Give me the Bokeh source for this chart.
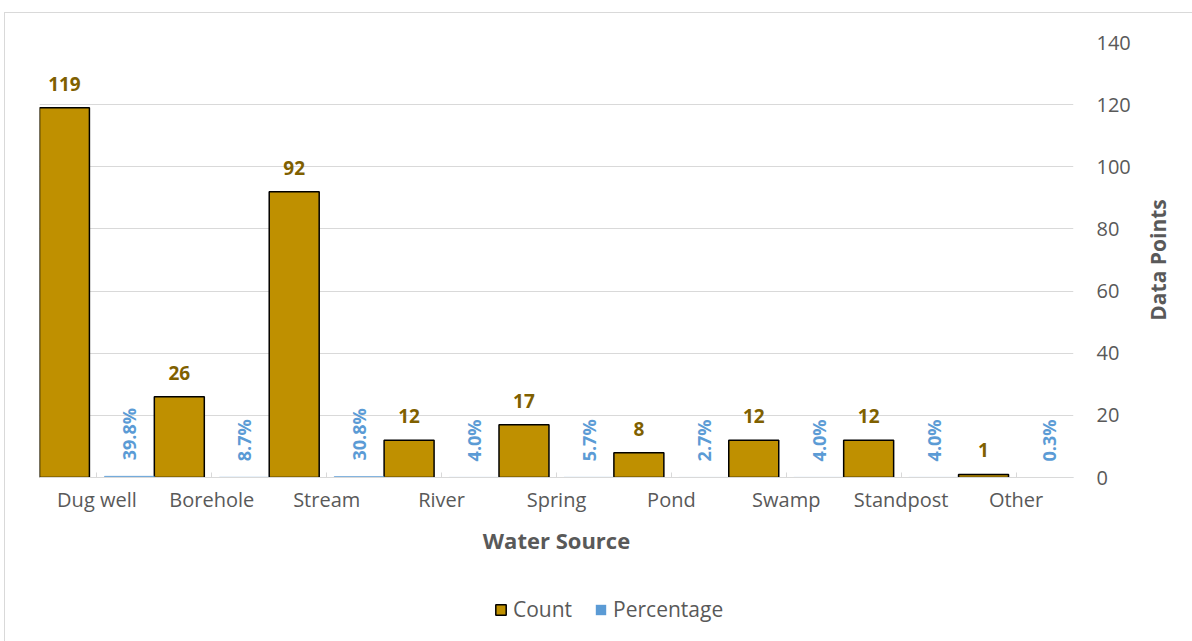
from math import pi

from bokeh.core.properties import value
from bokeh.embed import file_html
from bokeh.layouts import column, row
from bokeh.models import (ColumnDataSource, FixedTicker, Grid, Legend,
                          LegendItem, LinearAxis, Range1d)
from bokeh.plotting import figure
from bokeh.resources import INLINE

# ---- data -------------------------------------------------------------
sources = ["Dug well", "Borehole", "Stream", "River", "Spring",
           "Pond", "Swamp", "Standpost", "Other"]
counts = [119, 26, 92, 12, 17, 8, 12, 12, 1]
percentages = [39.8, 8.7, 30.8, 4.0, 5.7, 2.7, 4.0, 4.0, 0.3]
y_ticks = [0, 20, 40, 60, 80, 100, 120, 140]

# ---- style ------------------------------------------------------------
FONT = "Open Sans"
GOLD = "#BF9000"
DARK_GOLD = "#7F6000"
BLUE = "#5B9BD5"
TEXT_GREY = "#595959"
GRID_GREY = "#D9D9D9"

positions = list(range(len(sources)))
shift = 0.283
bar_w = 0.435

src = ColumnDataSource(dict(
    count_x=[i - shift for i in positions],
    pct_x=[i + shift for i in positions],
    count=counts,
    pct=[v / 100 for v in percentages],
    count_label=[str(c) for c in counts],
    pct_label=[f"{v:.1f}%" for v in percentages],
))

BORDER_TOP, BORDER_BOTTOM = 29, 104

p = figure(
    width=1135, height=568,
    x_range=Range1d(-0.5, len(sources) - 0.5),
    y_range=Range1d(0, 140),
    x_axis_location=None, y_axis_location=None,
    output_backend="svg", toolbar_location=None,
    min_border_left=34, min_border_top=BORDER_TOP,
    min_border_right=67, min_border_bottom=BORDER_BOTTOM,
)
p.outline_line_color = None
p.background_fill_color = "white"
p.border_fill_color = "white"
# drop the default grids; only horizontal gridlines are drawn
p.center = [r for r in p.center if not isinstance(r, Grid)]
p.add_layout(Grid(dimension=1, ticker=FixedTicker(ticks=y_ticks),
                  grid_line_color=GRID_GREY, grid_line_width=1))

# bars
count_style = dict(fill_color=GOLD, line_color="black", line_width=1.5)
p.vbar(x="count_x", top="count", width=bar_w, source=src, **count_style)
p.vbar(x="pct_x", top="pct", width=bar_w, source=src,
       fill_color=BLUE, line_color=BLUE, line_width=0.5)

# value labels
p.text(x="count_x", y="count", text="count_label", source=src,
       text_font=value(FONT), text_font_size="19px", text_font_style="bold",
       text_color=DARK_GOLD, text_align="center", text_baseline="alphabetic",
       y_offset=-24)
p.text(x="pct_x", y="pct", text="pct_label", source=src, angle=pi / 2,
       text_font=value(FONT), text_font_size="18px", text_font_style="bold",
       text_color=BLUE, text_align="left", text_baseline="middle",
       y_offset=-16)

# category axis
xaxis = LinearAxis(
    ticker=FixedTicker(ticks=positions),
    major_label_overrides={i: s for i, s in zip(positions, sources)},
    axis_label="Water Source",
)
xaxis.axis_line_color = GRID_GREY
xaxis.major_tick_line_color = GRID_GREY
xaxis.major_tick_in = 5
xaxis.major_tick_out = 0
xaxis.minor_tick_line_color = None
xaxis.major_label_standoff = 8
xaxis.major_label_text_font = FONT
xaxis.major_label_text_font_size = "20px"
xaxis.major_label_text_color = TEXT_GREY
xaxis.axis_label_standoff = 9
xaxis.axis_label_text_font = FONT
xaxis.axis_label_text_font_size = "22px"
xaxis.axis_label_text_font_style = "bold"
xaxis.axis_label_text_color = TEXT_GREY
p.add_layout(xaxis, "below")

# value axis (tick labels) on the right
yaxis = LinearAxis(ticker=FixedTicker(ticks=y_ticks))
yaxis.axis_line_color = None
yaxis.major_tick_line_color = None
yaxis.minor_tick_line_color = None
yaxis.major_label_standoff = 17
yaxis.major_label_text_font = FONT
yaxis.major_label_text_font_size = "20px"
yaxis.major_label_text_color = TEXT_GREY
p.add_layout(yaxis, "right")

# narrow strip carrying the value-axis title, reading bottom to top
side = figure(
    width=52, height=568,
    x_range=Range1d(0, 1), y_range=Range1d(0, 140),
    x_axis_location=None, y_axis_location=None,
    output_backend="svg", toolbar_location=None,
    min_border_left=0, min_border_right=0,
    min_border_top=BORDER_TOP, min_border_bottom=BORDER_BOTTOM,
)
side.outline_line_color = None
side.center = [r for r in side.center if not isinstance(r, Grid)]
title_axis = LinearAxis(ticker=FixedTicker(ticks=[]), axis_label="Data Points")
title_axis.axis_line_color = None
title_axis.major_tick_line_color = None
title_axis.minor_tick_line_color = None
title_axis.major_label_text_font_size = "0px"
title_axis.axis_label_standoff = 0
title_axis.axis_label_text_font = FONT
title_axis.axis_label_text_font_size = "21px"
title_axis.axis_label_text_font_style = "bold"
title_axis.axis_label_text_color = TEXT_GREY
side.add_layout(title_axis, "left")

# legend strip underneath the chart; its renderers only supply the swatches
leg = figure(
    width=1187, height=60,
    x_range=Range1d(-0.5, len(sources) - 0.5), y_range=Range1d(0, 140),
    x_axis_location=None, y_axis_location=None,
    output_backend="svg", toolbar_location=None,
    min_border_left=34, min_border_right=119, min_border_top=0, min_border_bottom=0,
)
leg.outline_line_color = None
leg.center = [r for r in leg.center if not isinstance(r, Grid)]
leg_count = leg.vbar(x="count_x", top="count", width=bar_w, source=src,
                     visible=False, **count_style)
leg_pct = leg.vbar(x="pct_x", top="pct", width=bar_w, source=src,
                   fill_color=BLUE, line_color=None, visible=False)
legend = Legend(
    items=[LegendItem(label="Count", renderers=[leg_count]),
           LegendItem(label="Percentage", renderers=[leg_pct])],
    orientation="horizontal", location=(455, 18), click_policy="none",
    border_line_color=None, background_fill_alpha=0,
    label_text_font=FONT, label_text_font_size="21px",
    label_text_color=TEXT_GREY,
    glyph_width=13, glyph_height=13, label_standoff=6, spacing=22,
    margin=0, padding=4,
)
leg.add_layout(legend, "center")

layout = column(
    row(p, side, spacing=0), leg, spacing=0, margin=(12, 0, 0, 4),
    styles={"border-top": "1px solid #D9D9D9", "border-left": "1px solid #D9D9D9"},
)

open("out.html", "w").write(file_html(layout, INLINE))
